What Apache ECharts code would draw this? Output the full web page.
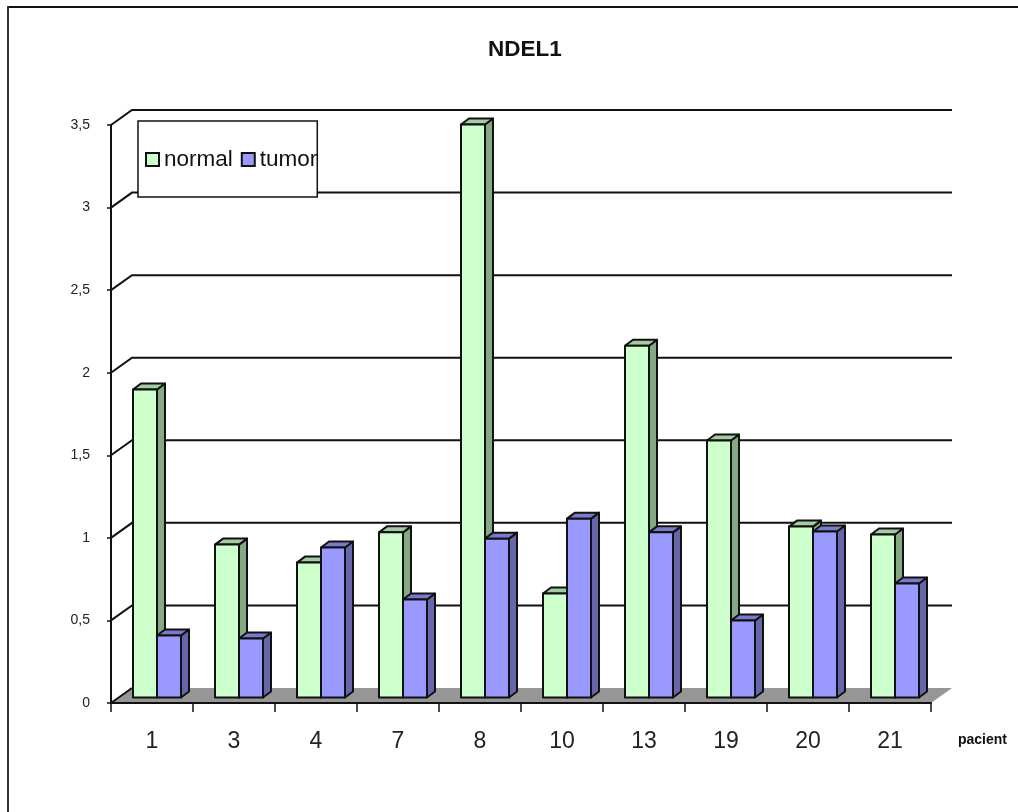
<!DOCTYPE html>
<html>
<head>
<meta charset="utf-8">
<style>
  html, body { margin: 0; padding: 0; background: #fff; }
  #chart { width: 1018px; height: 812px; }
</style>
<script src="https://cdn.jsdelivr.net/npm/echarts@6/dist/echarts.min.js"></script>
</head>
<body>
<div id="chart"></div>
<script>
// Relative NDEL1 expression per patient, normal versus tumor tissue
const patients = ['1', '3', '4', '7', '8', '10', '13', '19', '20', '21'];
const normalValues = [1.865, 0.926, 0.817, 1.0, 3.47, 0.63, 2.13, 1.556, 1.035, 0.987];
const tumorValues = [0.375, 0.357, 0.908, 0.593, 0.962, 1.083, 1.0, 0.466, 1.005, 0.69];
const gridValues = [0, 0.5, 1, 1.5, 2, 2.5, 3, 3.5];

// Oblique projection used to fake depth in the plot
const WALL_DX = 21, WALL_DY = -15;
const BAR_DX = 8, BAR_DY = -6, BAR_LIFT = 5.5, BAR_W = 24, BAR_SHIFT = -19;
const LINE = '#111';
const BAR_STROKE = 2;

function poly(points, fill, lineWidth) {
  return {
    type: 'polygon',
    shape: { points },
    style: { fill, stroke: lineWidth ? LINE : null, lineWidth: lineWidth || 0, lineJoin: 'round' }
  };
}

// Paints one set of prism bars: front face, top cap and right-hand side
function prismSeries(name, values, slot, front, side, cap) {
  return {
    name,
    type: 'custom',
    z: 3,
    encode: { x: 0, y: 1 },
    data: values.map((v, i) => [i, v]),
    itemStyle: { color: front, borderColor: LINE, borderWidth: 2 },
    renderItem(params, api) {
      const cat = api.value(0);
      const top = api.coord([cat, api.value(1)]);
      const base = api.coord([cat, 0]);
      const x0 = top[0] + BAR_SHIFT + slot * BAR_W;
      const x1 = x0 + BAR_W;
      const yT = top[1] - BAR_LIFT;
      const yB = base[1] - BAR_LIFT;
      return {
        type: 'group',
        children: [
          poly([[x1, yT], [x1 + BAR_DX, yT + BAR_DY], [x1 + BAR_DX, yB + BAR_DY], [x1, yB]], side, BAR_STROKE),
          poly([[x0, yT], [x0 + BAR_DX, yT + BAR_DY], [x1 + BAR_DX, yT + BAR_DY], [x1, yT]], cap, BAR_STROKE),
          poly([[x0, yT], [x1, yT], [x1, yB], [x0, yB]], front, BAR_STROKE)
        ]
      };
    }
  };
}

const option = {
  animation: false,
  backgroundColor: '#fff',
  textStyle: { fontFamily: '"Liberation Sans", Arial, sans-serif' },
  title: {
    text: 'NDEL1',
    left: 483,
    top: 33,
    textStyle: { fontSize: 22.5, fontWeight: 'bold', color: '#111' }
  },
  legend: {
    left: 138,
    top: 121,
    orient: 'horizontal',
    padding: [27, 0, 26, 7],
    itemGap: 8,
    itemWidth: 13,
    itemHeight: 13,
    icon: 'rect',
    selectedMode: false,
    backgroundColor: '#fff',
    borderColor: LINE,
    borderWidth: 1.5,
    textStyle: { fontSize: 22.5, color: '#111' },
    data: [
      { name: 'normal', itemStyle: { color: '#CCFFCC', borderColor: LINE, borderWidth: 2 } },
      { name: 'tumor', itemStyle: { color: '#9999FF', borderColor: LINE, borderWidth: 2 } }
    ]
  },
  grid: { left: 111, right: 87, top: 125, bottom: 109 },
  xAxis: {
    type: 'category',
    data: patients,
    z: 5,
    axisLine: { lineStyle: { color: LINE, width: 2 } },
    axisTick: { show: true, length: 9, lineStyle: { color: LINE, width: 1.5 } },
    axisLabel: { fontSize: 23, color: '#222', margin: 27 }
  },
  yAxis: {
    type: 'value',
    min: 0,
    max: 3.5,
    interval: 0.5,
    z: 5,
    splitLine: { show: false },
    axisLine: { show: true, lineStyle: { color: LINE, width: 2 } },
    axisTick: { show: true, length: 4, lineStyle: { color: LINE, width: 1.5 } },
    axisLabel: {
      fontSize: 14,
      color: '#222',
      margin: 21,
      formatter: v => String(v).replace('.', ',')
    }
  },
  graphic: [
    // Outer chart frame along the top and left edges
    { type: 'line', z: 0, shape: { x1: 7, y1: 7, x2: 1018, y2: 7 }, style: { stroke: '#111', lineWidth: 2 } },
    { type: 'line', z: 0, shape: { x1: 8, y1: 6, x2: 8, y2: 812 }, style: { stroke: '#333', lineWidth: 2 } },
    // Caption of the category axis
    {
      type: 'text',
      z: 5,
      x: 958,
      y: 733,
      style: { text: 'pacient', fontSize: 14, fontWeight: 'bold', fill: '#111', fontFamily: '"Liberation Sans", Arial, sans-serif' }
    }
  ],
  series: [
    {
      // Grey floor of the plot
      name: 'floor',
      type: 'custom',
      z: 1,
      data: [[0]],
      encode: { x: -1, y: -1 },
      silent: true,
      renderItem(params, api) {
        const c = params.coordSys;
        const y = api.coord([0, 0])[1];
        return poly([
          [c.x, y], [c.x + WALL_DX, y + WALL_DY],
          [c.x + c.width + WALL_DX, y + WALL_DY], [c.x + c.width, y]
        ], '#969696', 0);
      }
    },
    {
      // Value lines bent along the side wall and back wall
      name: 'wall',
      type: 'custom',
      z: 2,
      data: gridValues.filter(v => v > 0).map(v => [0, v]).concat([[0, 0]]),
      encode: { y: 1 },
      silent: true,
      renderItem(params, api) {
        const c = params.coordSys;
        const value = api.value(1);
        const y = api.coord([0, value])[1];
        const points = value === 0
          ? [[c.x, y], [c.x + WALL_DX, y + WALL_DY]]
          : [[c.x, y], [c.x + WALL_DX, y + WALL_DY], [c.x + c.width + WALL_DX, y + WALL_DY]];
        return {
          type: 'polyline',
          shape: { points },
          style: { stroke: LINE, lineWidth: 2, fill: null }
        };
      }
    },
    prismSeries('normal', normalValues, 0, '#CCFFCC', '#85A985', '#A3CCA3'),
    prismSeries('tumor', tumorValues, 1, '#9999FF', '#6666AA', '#7A7ACC')
  ]
};

echarts.init(document.getElementById('chart'), null, { renderer: 'canvas' }).setOption(option);
</script>
</body>
</html>
